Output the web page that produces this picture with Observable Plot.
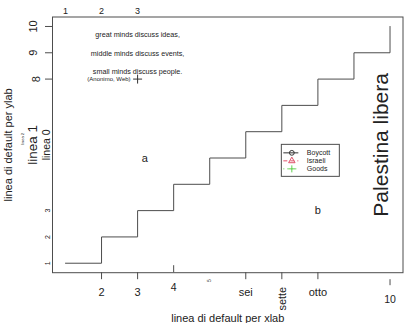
<!DOCTYPE html>
<html><head><meta charset="utf-8">
<script src="https://cdn.jsdelivr.net/npm/d3@7"></script>
<script src="https://cdn.jsdelivr.net/npm/@observablehq/plot@0.6"></script>
<style>body{margin:0;background:#fff} svg{display:block}</style>
</head><body><div id="chart"></div>
<script>
// ---- data ----
const stepX = [1, 2, 3, 4, 5, 6, 7, 8, 9, 10];
const stepY = [1, 2, 3, 4, 5, 6, 7, 8, 9, 10];
const xLim = [0.64, 10.36];
const yLim = [0.64, 10.36];

const bottomTicksOut = [2, 3, 6, 7, 8];
const bottomLabelsMain = [{x: 2, t: "2"}, {x: 3, t: "3"}, {x: 6, t: "sei"}, {x: 8, t: "otto"}];
const bottomTickIn = [4];
const bottomLabelIn = [{x: 4, t: "4"}];
const bottomTiny = [{x: 5, t: "5"}];
const bottomRotated = [{x: 7, t: "sette"}];
const bottomFarTick = [10];
const bottomFarLabel = [{x: 10, t: "10"}];

const topLabels = [{x: 1, t: "1"}, {x: 2, t: "2"}, {x: 3, t: "3"}];
const leftTicks = [8, 9, 10];
const leftLabelsHigh = [{y: 9, t: "9"}, {y: 10, t: "10"}];
const leftLabel8 = [{y: 8, t: "8"}];
const leftLabelsSmall = [{y: 1, t: "1"}, {y: 2, t: "2"}, {y: 3, t: "3"}];

const xlab = "linea di default per xlab";
const ylab = "linea di default per ylab";
const marginLines = ["linea 0", "linea 1", "linea 2"];
const sideText = "Palestina libera";

const quoteLines = ["great minds discuss ideas,", "middle minds discuss events,", "small minds discuss people."];
const quoteAt = [{x: 3, y: 9}];
const sourceAt = [{x: 3, y: 8, t: "(Anonimo, Web)"}];
const plusAt = [{x: 3, y: 8}];
const notes = [{x: 3.2, y: 5, t: "a"}, {x: 8, y: 3, t: "b"}];

const legendAt = [{x: 7, y: 5.5}];
const legendLabels = ["Boycott", "Israeli", "Goods"];
const legendColors = ["#333333", "#DF536B", "#61D04F"];
const legendSymbols = ["circle", "triangle", "plus"];
const legendDash = [null, "4,3", "1,3"];

// ---- build ----
const steps = stepX.map((x, i) => ({x, y: stepY[i]}));
const FONT = "Liberation Sans, Arial, Helvetica, sans-serif";
const LINE = "#4d4d4d";
const TXT = "#222";
const noText = () => "";
const C = {textAnchor: "middle", lineAnchor: "middle", fill: TXT};

const legendMarks = legendLabels.flatMap((lab, i) => {
  const dy = 8 + 8 * i;
  return [
    Plot.ruleY(legendAt, {y: "y", x1: "x", x2: "x", insetLeft: 2, insetRight: -17, dy,
      stroke: legendColors[i], strokeDasharray: legendDash[i]}),
    Plot.dot(legendAt, {x: "x", y: "y", dx: 10, dy, symbol: legendSymbols[i], r: 2.4,
      stroke: legendColors[i], fill: "none", strokeWidth: 1}),
    Plot.text(legendAt, {x: "x", y: "y", dx: 25, dy, text: () => lab, textAnchor: "start",
      lineAnchor: "middle", fontSize: 7, fill: TXT})
  ];
});

const chart = Plot.plot({
  width: 404,
  height: 323,
  marginLeft: 52,
  marginRight: 1.5,
  marginTop: 16.5,
  marginBottom: 50.8,
  style: {fontFamily: FONT, color: TXT, background: "white"},
  x: {domain: xLim, axis: null},
  y: {domain: yLim, axis: null},
  marks: [
    Plot.frame({stroke: LINE}),
    Plot.line(steps, {x: "x", y: "y", curve: "step-after", stroke: LINE, strokeWidth: 1}),

    // bottom axis
    Plot.axisX(bottomTicksOut, {anchor: "bottom", tickSize: 7, tickFormat: noText, label: null, stroke: LINE}),
    Plot.axisX(bottomTickIn, {anchor: "bottom", tickSize: 7, dy: -7, tickFormat: noText, label: null, stroke: LINE}),
    Plot.axisX(bottomFarTick, {anchor: "bottom", tickSize: 6, dy: 7, tickFormat: noText, label: null, stroke: LINE}),
    Plot.text(bottomLabelsMain, {...C, x: "x", text: "t", frameAnchor: "bottom", dy: 20, fontSize: 11}),
    Plot.text(bottomLabelIn, {...C, x: "x", text: "t", frameAnchor: "bottom", dy: 14.5, fontSize: 10.5}),
    Plot.text(bottomTiny, {...C, x: "x", text: "t", frameAnchor: "bottom", dy: 8, rotate: -90, fontSize: 5}),
    Plot.text(bottomRotated, {...C, x: "x", text: "t", frameAnchor: "bottom", dy: 26, dx: 1, rotate: -90, fontSize: 11}),
    Plot.text(bottomFarLabel, {...C, x: "x", text: "t", frameAnchor: "bottom", dy: 26.5, fontSize: 10.5}),
    Plot.text([xlab], {...C, text: d => d, frameAnchor: "bottom", dy: 46, fontSize: 11}),

    // top labels
    Plot.text(topLabels, {...C, x: "x", text: "t", frameAnchor: "top", dy: -5.5, fontSize: 9}),

    // left axis
    Plot.axisY(leftTicks, {anchor: "left", tickSize: 7, tickFormat: noText, label: null, stroke: LINE}),
    Plot.text(leftLabelsHigh, {...C, y: "y", text: "t", frameAnchor: "left", dx: -19, rotate: -90, fontSize: 11}),
    Plot.text(leftLabel8, {...C, y: "y", text: "t", frameAnchor: "left", dx: -16, rotate: -90, fontSize: 11}),
    Plot.text(leftLabelsSmall, {...C, y: "y", text: "t", frameAnchor: "left", dx: -5, rotate: -90, fontSize: 7}),
    Plot.text([ylab], {...C, text: d => d, frameAnchor: "left", dx: -44, rotate: -90, fontSize: 11}),
    Plot.text([marginLines[2]], {...C, text: d => d, frameAnchor: "left", dx: -30, dy: -6, rotate: -90, fontSize: 4}),
    Plot.text([marginLines[1]], {...C, text: d => d, frameAnchor: "left", dx: -20, rotate: -90, fontSize: 13.5}),
    Plot.text([marginLines[0]], {...C, text: d => d, frameAnchor: "left", dx: -6, rotate: -90, fontSize: 10.5}),

    // right side text
    Plot.text([sideText], {...C, text: d => d, frameAnchor: "right", dx: -22, rotate: -90, fontSize: 21}),

    // annotations
    Plot.text(quoteAt, {...C, x: "x", y: "y", text: () => quoteLines.join("\n\n"), fontSize: 7.2, lineHeight: 1.27}),
    Plot.text(sourceAt, {...C, x: "x", y: "y", text: "t", textAnchor: "end", dx: -7, fontSize: 6}),
    Plot.dot(plusAt, {x: "x", y: "y", symbol: "plus", r: 3, stroke: "#333", strokeWidth: 1}),
    Plot.text(notes, {...C, x: "x", y: "y", text: "t", fontSize: 11}),

    // legend
    Plot.rect(legendAt, {x1: "x", x2: "x", y1: "y", y2: "y", insetRight: -58, insetBottom: -32,
      fill: "white", stroke: LINE}),
    ...legendMarks
  ]
});
document.getElementById("chart").appendChild(chart);
</script>
</body></html>
